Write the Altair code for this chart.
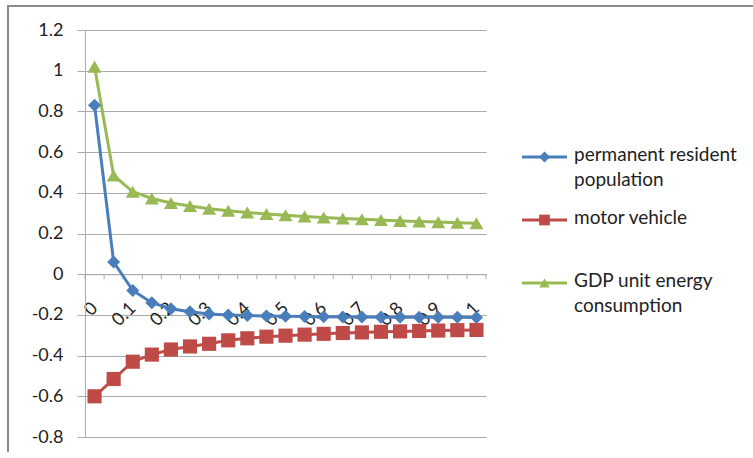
import altair as alt
import pandas as pd

# ---------------- data ----------------
X = [0, 0.05, 0.1, 0.15, 0.2, 0.25, 0.3, 0.35, 0.4, 0.45, 0.5,
     0.55, 0.6, 0.65, 0.7, 0.75, 0.8, 0.85, 0.9, 0.95, 1]
POP = [0.83, 0.06, -0.08, -0.14, -0.17, -0.185, -0.195, -0.2, -0.203, -0.205, -0.207,
       -0.208, -0.209, -0.21, -0.21, -0.211, -0.211, -0.212, -0.212, -0.212, -0.213]
VEH = [-0.6, -0.515, -0.43, -0.395, -0.37, -0.355, -0.342, -0.325, -0.315, -0.307, -0.302,
       -0.297, -0.293, -0.289, -0.286, -0.283, -0.281, -0.279, -0.277, -0.275, -0.274]
GDP = [1.02, 0.485, 0.405, 0.372, 0.35, 0.335, 0.322, 0.312, 0.303, 0.296, 0.29,
       0.284, 0.279, 0.274, 0.27, 0.266, 0.262, 0.259, 0.256, 0.253, 0.25]

NAMES = ["permanent resident population", "motor vehicle", "GDP unit energy consumption"]
LEGEND_TEXT = ["permanent resident\npopulation", "motor vehicle", "GDP unit energy\nconsumption"]
COLORS = ["#4A7EBB", "#BE4B48", "#98B954"]
MARKERS = ["diamond", "square", "triangle-up"]
MARKER_SIZES = [170, 200, 195]
LEGEND_MARKER_SIZES = [120, 110, 130]
Y_TICKS = [-0.8, -0.6, -0.4, -0.2, 0, 0.2, 0.4, 0.6, 0.8, 1, 1.2]
X_LABELS = [0, 0.1, 0.2, 0.3, 0.4, 0.5, 0.6, 0.7, 0.8, 0.9, 1]

rows = []
for name, vals in zip(NAMES, [POP, VEH, GDP]):
    for x, v in zip(X, vals):
        rows.append({"x": x, "value": v, "series": name})
df = pd.DataFrame(rows)

half = (X[1] - X[0]) / 2
bounds = pd.DataFrame({"x": [x - half for x in X] + [X[-1] + half]})
one = pd.DataFrame({"k": [0]})
legend_df = pd.DataFrame({"series": NAMES, "label": LEGEND_TEXT, "row": list(range(len(NAMES)))})

# ---------------- layout ----------------
W, H = 401, 407
Y_MIN, Y_MAX = -0.8, 1.2
FONT = "Lato"
TXT = "#222222"
GRID = "#ababab"
PAD = {"left": 85, "top": 30, "right": 267, "bottom": 15}

x_scale = alt.Scale(domain=[X[0] - half, X[-1] + half], nice=False, zero=False)
y_scale = alt.Scale(domain=[Y_MIN, Y_MAX], nice=False, zero=False)
color_scale = alt.Scale(domain=NAMES, range=COLORS)

x_axis = alt.Axis(values=X_LABELS, labelAngle=-45, labelAlign="right", labelBaseline="middle",
                  labelPadding=31, ticks=False, grid=False, domain=True, domainColor=GRID,
                  domainWidth=1, offset=-H * (0 - Y_MIN) / (Y_MAX - Y_MIN),
                  labelExpr="toString(round(datum.value*10)/10)", title=None,
                  labelFontSize=18, labelColor=TXT, labelFont=FONT,
                  labelOverlap=False, labelBound=False, labelFlush=False)
y_axis = alt.Axis(values=Y_TICKS, grid=True, gridColor=GRID, gridWidth=1,
                  domain=True, domainColor=GRID, tickColor=GRID, tickSize=8,
                  labelPadding=14, labelFontSize=18, labelColor=TXT, labelFont=FONT,
                  labelExpr="toString(round(datum.value*10)/10)", title=None,
                  labelOverlap=False, labelFlush=False)

x_enc = alt.X("x:Q", scale=x_scale, axis=x_axis)
y_enc = alt.Y("value:Q", scale=y_scale, axis=y_axis)

# chart frame (top and left edges only; the others fall outside the picture)
frame_top = alt.Chart(one).mark_rule(color="#8a8a8a", strokeWidth=2).encode(
    x=alt.value(-77), x2=alt.value(W + PAD["right"]), y=alt.value(-24)
)
frame_left = alt.Chart(one).mark_rule(color="#8a8a8a", strokeWidth=2).encode(
    x=alt.value(-77), y=alt.value(-25), y2=alt.value(H + PAD["bottom"])
)

ticks = alt.Chart(bounds).mark_rule(color=GRID, strokeWidth=1).encode(
    x=x_enc, y=alt.datum(0), y2=alt.datum(-0.025)
)

lines = alt.Chart(df).mark_line(strokeWidth=3).encode(
    x=x_enc, y=y_enc,
    color=alt.Color("series:N", scale=color_scale, legend=None),
)

point_layers = []
for name, col, mk, sz in zip(NAMES, COLORS, MARKERS, MARKER_SIZES):
    point_layers.append(
        alt.Chart(df).transform_filter(alt.datum.series == name)
        .mark_point(filled=True, shape=mk, size=sz, color=col, opacity=1, strokeWidth=0)
        .encode(x=x_enc, y=y_enc)
    )

main = alt.layer(frame_top, frame_left, ticks, lines, *point_layers)

# ---------------- legend (rows laid out by their own y scale) ----------------
row_y = alt.Y("row:Q", scale=alt.Scale(domain=[0, len(NAMES) - 1], range=[127, 253]), axis=None)
LEG_X0, LEG_X1, LEG_TX = 437, 482, 489

leg_lines = alt.Chart(legend_df).mark_rule(strokeWidth=3).encode(
    x=alt.value(LEG_X0), x2=alt.value(LEG_X1), y=row_y,
    color=alt.Color("series:N", scale=color_scale, legend=None),
)
leg_points = alt.Chart(legend_df).mark_point(filled=True, opacity=1, strokeWidth=0).encode(
    x=alt.value((LEG_X0 + LEG_X1) / 2), y=row_y,
    color=alt.Color("series:N", scale=color_scale, legend=None),
    shape=alt.Shape("series:N", scale=alt.Scale(domain=NAMES, range=MARKERS), legend=None),
    size=alt.Size("series:N", scale=alt.Scale(domain=NAMES, range=LEGEND_MARKER_SIZES), legend=None),
)
leg_text = alt.Chart(legend_df).mark_text(
    align="left", baseline="top", dy=-11, lineBreak="\n", lineHeight=25,
    font=FONT, fontSize=19, color=TXT,
).encode(x=alt.value(LEG_TX), y=row_y, text="label:N")

legend_block = alt.layer(leg_lines, leg_points, leg_text)

chart = alt.layer(main, legend_block).resolve_scale(y="independent").properties(
    width=W, height=H, padding=PAD,
    autosize=alt.AutoSizeParams(type="none"),
).configure_view(strokeWidth=0)

chart.save("out.html", embed_options={"renderer": "svg", "actions": False})
